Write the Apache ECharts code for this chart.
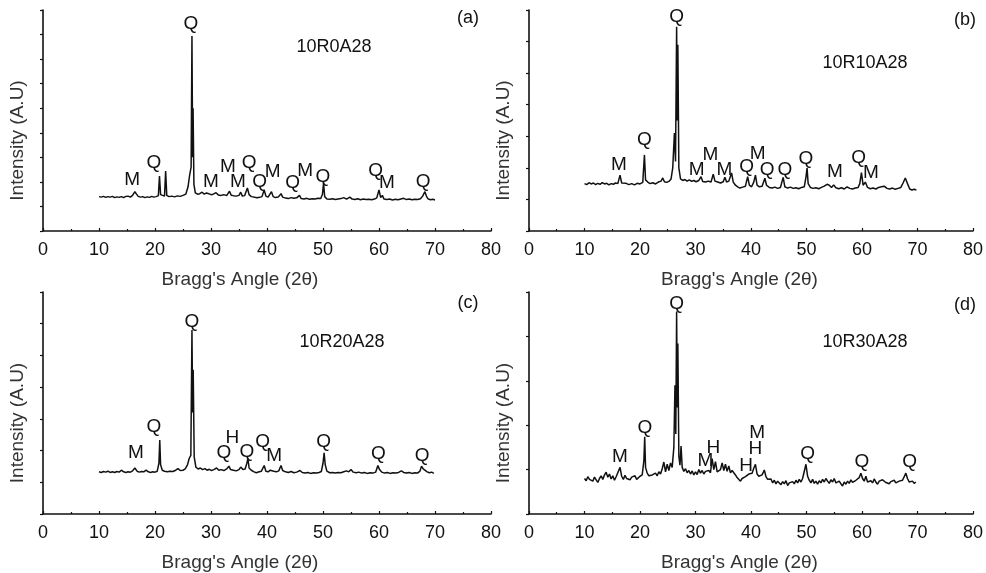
<!DOCTYPE html>
<html>
<head>
<meta charset="utf-8">
<script src="https://cdn.jsdelivr.net/npm/echarts@6/dist/echarts.min.js"></script>
<style>
  html, body { margin: 0; padding: 0; background: #fff; }
  #chart { width: 986px; height: 573px; }
</style>
</head>
<body>
<div id="chart"></div>
<script>
// XRD patterns, [2theta, intensity in tick units]
const xrdA = [[10.0,1.40],[10.4,1.38],[10.8,1.41],[11.2,1.37],[11.6,1.40],[12.0,1.38],[12.4,1.41],[12.8,1.36],[13.2,1.39],[13.6,1.37],[14.0,1.40],[14.4,1.36],[14.8,1.41],[15.2,1.42],[15.6,1.38],[16.0,1.45],[16.4,1.60],[16.7,1.50],[17.0,1.41],[17.4,1.38],[17.8,1.40],[18.2,1.36],[18.6,1.39],[19.0,1.37],[19.4,1.41],[19.8,1.38],[20.2,1.40],[20.6,1.44],[20.8,2.24],[21.0,1.48],[21.3,1.40],[21.7,1.42],[21.9,2.44],[22.1,1.45],[22.5,1.40],[23.0,1.42],[23.5,1.39],[24.0,1.43],[24.5,1.41],[25.0,1.45],[25.5,1.50],[25.9,1.80],[26.2,2.30],[26.45,2.6],[26.6,7.94],[26.72,3.0],[26.8,5.0],[26.95,1.9],[27.2,1.55],[27.6,1.50],[28.0,1.52],[28.4,1.58],[28.8,1.50],[29.2,1.55],[29.6,1.52],[30.0,1.48],[30.4,1.50],[30.9,1.56],[31.3,1.47],[31.8,1.45],[32.3,1.48],[32.8,1.44],[33.3,1.62],[33.6,1.46],[34.0,1.44],[34.5,1.42],[35.0,1.45],[35.3,1.58],[35.6,1.42],[36.0,1.44],[36.5,1.75],[36.8,1.48],[37.2,1.40],[37.7,1.38],[38.2,1.35],[38.7,1.37],[39.1,1.40],[39.5,1.67],[39.8,1.42],[40.2,1.38],[40.5,1.45],[40.8,1.60],[41.1,1.40],[41.5,1.36],[42.0,1.38],[42.5,1.52],[42.8,1.38],[43.3,1.34],[43.8,1.32],[44.3,1.36],[44.8,1.33],[45.3,1.35],[45.8,1.45],[46.1,1.32],[46.6,1.30],[47.1,1.33],[47.6,1.29],[48.1,1.31],[48.6,1.30],[49.1,1.33],[49.6,1.32],[49.9,1.50],[50.1,1.95],[50.3,1.40],[50.7,1.30],[51.2,1.29],[51.7,1.31],[52.2,1.28],[52.7,1.30],[53.2,1.32],[53.7,1.36],[54.2,1.30],[54.8,1.38],[55.2,1.30],[55.7,1.28],[56.2,1.31],[56.7,1.27],[57.2,1.30],[57.7,1.28],[58.2,1.29],[58.7,1.27],[59.2,1.30],[59.6,1.35],[60.0,1.67],[60.3,1.36],[60.6,1.45],[60.9,1.30],[61.4,1.28],[61.9,1.30],[62.4,1.26],[62.9,1.29],[63.4,1.27],[63.9,1.30],[64.4,1.33],[64.9,1.28],[65.4,1.30],[65.9,1.27],[66.4,1.29],[66.9,1.28],[67.4,1.31],[67.8,1.42],[68.2,1.60],[68.5,1.40],[68.8,1.30],[69.2,1.27],[69.6,1.29],[70.0,1.26]];

const xrdB = [[10.0,1.50],[10.4,1.47],[10.8,1.53],[11.2,1.49],[11.6,1.52],[12.0,1.47],[12.4,1.51],[12.8,1.48],[13.2,1.53],[13.6,1.49],[14.0,1.51],[14.4,1.46],[14.8,1.50],[15.2,1.48],[15.6,1.52],[16.0,1.50],[16.4,1.77],[16.7,1.52],[17.0,1.48],[17.5,1.51],[18.0,1.47],[18.5,1.50],[19.0,1.46],[19.5,1.51],[20.0,1.49],[20.5,1.54],[20.8,2.41],[21.0,1.62],[21.4,1.55],[21.8,1.50],[22.3,1.53],[22.8,1.49],[23.3,1.55],[23.8,1.58],[24.1,1.68],[24.4,1.56],[24.8,1.54],[25.2,1.57],[25.6,1.65],[25.9,2.0],[26.2,3.1],[26.4,2.2],[26.6,6.47],[26.72,3.5],[26.82,5.9],[27.0,2.0],[27.3,1.65],[27.7,1.60],[28.1,1.63],[28.5,1.58],[28.9,1.62],[29.3,1.57],[29.7,1.60],[30.1,1.56],[30.6,1.60],[31.0,1.72],[31.3,1.57],[31.8,1.55],[32.3,1.58],[32.8,1.55],[33.2,1.80],[33.5,1.58],[34.0,1.55],[34.5,1.52],[35.0,1.56],[35.3,1.70],[35.6,1.55],[36.0,1.58],[36.5,1.84],[36.8,1.55],[37.2,1.45],[37.6,1.40],[38.0,1.36],[38.5,1.39],[39.0,1.42],[39.4,1.72],[39.7,1.45],[40.1,1.40],[40.5,1.55],[40.8,1.77],[41.1,1.45],[41.5,1.40],[42.0,1.42],[42.5,1.67],[42.8,1.45],[43.3,1.38],[43.8,1.36],[44.3,1.39],[44.8,1.35],[45.3,1.38],[45.8,1.70],[46.1,1.40],[46.6,1.36],[47.1,1.39],[47.6,1.35],[48.1,1.37],[48.6,1.34],[49.1,1.38],[49.6,1.40],[49.9,1.70],[50.1,1.99],[50.3,1.50],[50.7,1.38],[51.2,1.35],[51.7,1.37],[52.2,1.34],[52.7,1.38],[53.2,1.42],[53.7,1.48],[54.1,1.45],[54.5,1.38],[54.9,1.46],[55.3,1.37],[55.8,1.34],[56.3,1.37],[56.8,1.33],[57.3,1.40],[57.8,1.35],[58.3,1.33],[58.8,1.36],[59.3,1.38],[59.6,1.50],[59.9,1.85],[60.2,1.45],[60.6,1.55],[61.0,1.38],[61.5,1.34],[62.0,1.36],[62.5,1.33],[63.0,1.38],[63.5,1.40],[64.0,1.42],[64.5,1.35],[65.0,1.33],[65.5,1.36],[66.0,1.32],[66.5,1.35],[67.0,1.38],[67.4,1.52],[67.8,1.68],[68.2,1.50],[68.6,1.33],[69.0,1.30],[69.4,1.32],[69.8,1.30]];

const xrdC = [[10.0,1.33],[10.4,1.31],[10.8,1.34],[11.2,1.32],[11.6,1.35],[12.0,1.31],[12.4,1.33],[12.8,1.31],[13.2,1.34],[13.6,1.32],[14.0,1.38],[14.4,1.33],[14.8,1.31],[15.2,1.33],[15.6,1.32],[16.0,1.36],[16.4,1.45],[16.8,1.35],[17.2,1.32],[17.6,1.34],[18.0,1.33],[18.4,1.38],[18.8,1.33],[19.2,1.31],[19.6,1.33],[20.0,1.32],[20.4,1.35],[20.7,1.60],[20.85,2.33],[21.0,1.55],[21.3,1.38],[21.7,1.35],[22.2,1.33],[22.7,1.35],[23.2,1.34],[23.7,1.38],[24.1,1.43],[24.5,1.37],[25.0,1.38],[25.4,1.42],[25.8,1.55],[26.1,1.75],[26.4,1.85],[26.6,5.80],[26.72,3.2],[26.82,4.55],[27.0,1.8],[27.3,1.48],[27.7,1.42],[28.1,1.45],[28.5,1.40],[28.9,1.43],[29.3,1.38],[29.7,1.41],[30.1,1.37],[30.5,1.40],[31.0,1.45],[31.4,1.38],[31.8,1.40],[32.3,1.37],[32.8,1.42],[33.2,1.51],[33.5,1.40],[34.0,1.38],[34.5,1.36],[35.0,1.40],[35.3,1.48],[35.7,1.40],[36.1,1.42],[36.4,1.60],[36.6,1.75],[36.8,1.45],[37.2,1.38],[37.7,1.33],[38.1,1.30],[38.6,1.33],[39.0,1.35],[39.5,1.53],[39.8,1.35],[40.2,1.33],[40.6,1.38],[40.9,1.42],[41.2,1.35],[41.7,1.33],[42.1,1.36],[42.5,1.53],[42.8,1.37],[43.3,1.33],[43.8,1.31],[44.3,1.34],[44.8,1.30],[45.3,1.32],[45.9,1.37],[46.3,1.31],[46.8,1.29],[47.3,1.31],[47.8,1.28],[48.3,1.30],[48.8,1.29],[49.3,1.31],[49.7,1.34],[50.0,1.60],[50.2,1.93],[50.4,1.55],[50.7,1.35],[51.2,1.30],[51.7,1.31],[52.2,1.29],[52.7,1.31],[53.2,1.30],[53.7,1.33],[54.2,1.36],[54.6,1.33],[55.0,1.40],[55.4,1.32],[55.9,1.30],[56.4,1.32],[56.9,1.29],[57.4,1.31],[57.9,1.28],[58.4,1.30],[58.9,1.29],[59.4,1.32],[59.8,1.53],[60.1,1.40],[60.5,1.32],[61.0,1.29],[61.5,1.31],[62.0,1.28],[62.5,1.30],[63.0,1.29],[63.5,1.31],[64.0,1.36],[64.4,1.31],[64.9,1.29],[65.4,1.31],[65.9,1.28],[66.4,1.30],[66.9,1.29],[67.3,1.35],[67.6,1.51],[67.9,1.42],[68.2,1.48],[68.6,1.33],[69.0,1.30],[69.4,1.32],[69.8,1.28]];

const xrdD = [[10.0,0.80],[10.3,0.75],[10.6,0.84],[10.9,0.78],[11.2,0.82],[11.5,0.74],[11.8,0.83],[12.1,0.77],[12.4,0.71],[12.7,0.80],[13.0,0.86],[13.3,0.78],[13.6,0.88],[13.9,0.94],[14.2,0.83],[14.5,0.90],[14.8,0.79],[15.1,0.86],[15.4,0.76],[15.7,0.84],[16.0,0.81],[16.4,1.05],[16.7,0.85],[17.0,0.78],[17.3,0.87],[17.6,0.80],[17.9,0.84],[18.2,0.77],[18.5,0.83],[18.8,0.79],[19.1,0.86],[19.4,0.78],[19.7,0.82],[20.0,0.85],[20.4,0.88],[20.7,1.20],[20.85,1.74],[21.0,1.05],[21.3,0.92],[21.6,0.86],[21.9,0.82],[22.2,0.88],[22.5,0.84],[22.8,0.92],[23.1,0.86],[23.4,0.95],[23.7,0.90],[24.0,1.02],[24.3,1.17],[24.6,0.95],[24.9,1.12],[25.2,0.98],[25.5,1.15],[25.8,1.05],[26.1,1.50],[26.3,2.90],[26.45,1.8],[26.6,4.56],[26.72,2.4],[26.82,3.84],[27.0,1.3],[27.2,1.1],[27.4,1.53],[27.6,1.05],[27.9,0.96],[28.2,1.02],[28.5,0.93],[28.8,0.98],[29.1,0.90],[29.4,0.97],[29.7,0.88],[30.0,0.95],[30.3,0.89],[30.6,1.00],[30.9,0.92],[31.2,0.98],[31.5,0.90],[31.8,0.96],[32.1,0.92],[32.4,0.98],[32.7,0.93],[33.0,1.25],[33.3,1.00],[33.6,1.18],[33.9,0.95],[34.2,0.92],[34.5,1.00],[34.8,1.15],[35.1,0.98],[35.4,1.12],[35.7,0.96],[36.0,1.08],[36.3,0.93],[36.6,0.98],[36.9,1.02],[37.2,0.88],[37.5,0.82],[37.8,0.78],[38.1,0.74],[38.4,0.80],[38.7,0.76],[39.0,0.84],[39.3,0.80],[39.6,0.90],[39.9,0.86],[40.2,0.92],[40.5,1.03],[40.8,1.12],[41.1,0.90],[41.4,0.85],[41.7,0.82],[42.0,0.88],[42.4,0.99],[42.7,0.84],[43.0,0.78],[43.3,0.74],[43.6,0.79],[43.9,0.70],[44.2,0.76],[44.5,0.68],[44.8,0.74],[45.1,0.70],[45.4,0.66],[45.7,0.73],[46.0,0.68],[46.3,0.75],[46.6,0.64],[46.9,0.70],[47.2,0.66],[47.5,0.73],[47.8,0.68],[48.1,0.76],[48.4,0.70],[48.7,0.78],[49.0,0.72],[49.3,0.80],[49.6,0.84],[49.9,1.12],[50.2,0.85],[50.5,0.76],[50.8,0.70],[51.1,0.78],[51.4,0.69],[51.7,0.74],[52.0,0.67],[52.3,0.75],[52.6,0.70],[52.9,0.78],[53.2,0.72],[53.5,0.80],[53.8,0.74],[54.1,0.69],[54.4,0.77],[54.7,0.72],[55.0,0.80],[55.3,0.70],[55.6,0.66],[55.9,0.74],[56.2,0.68],[56.5,0.63],[56.8,0.72],[57.1,0.67],[57.4,0.74],[57.7,0.69],[58.0,0.77],[58.3,0.71],[58.6,0.68],[58.9,0.76],[59.2,0.72],[59.5,0.82],[59.8,0.92],[60.1,0.80],[60.4,0.74],[60.7,0.85],[61.0,0.72],[61.3,0.68],[61.6,0.75],[61.9,0.70],[62.2,0.79],[62.5,0.72],[62.8,0.67],[63.1,0.74],[63.4,0.70],[63.7,0.77],[64.0,0.80],[64.3,0.71],[64.6,0.75],[64.9,0.68],[65.2,0.73],[65.5,0.69],[65.8,0.76],[66.1,0.70],[66.4,0.66],[66.7,0.74],[67.0,0.70],[67.3,0.76],[67.6,0.84],[67.9,0.92],[68.2,0.80],[68.5,0.72],[68.8,0.68],[69.1,0.74],[69.4,0.69],[69.7,0.72]];

// phase labels: [2theta, height, phase]
const peaksA = [[26.4,8.43,'Q'],[15.9,2.08,'M'],[19.8,2.77,'Q'],[30.0,2.0,'M'],[33.0,2.60,'M'],[34.8,2.0,'M'],[36.8,2.77,'Q'],[38.7,2.0,'Q'],[41.0,2.4,'M'],[44.6,1.95,'Q'],[46.8,2.44,'M'],[50.0,2.20,'Q'],[59.4,2.44,'Q'],[61.4,1.95,'M'],[67.9,2.0,'Q']];
const peaksB = [[26.6,6.79,'Q'],[20.8,2.90,'Q'],[16.2,2.09,'M'],[30.2,1.95,'M'],[32.7,2.41,'M'],[35.2,1.93,'M'],[39.2,2.04,'Q'],[41.2,2.46,'M'],[42.9,1.93,'Q'],[46.1,1.95,'Q'],[49.9,2.30,'Q'],[55.1,1.88,'M'],[59.4,2.33,'Q'],[61.6,1.83,'M']];
const peaksC = [[26.6,6.07,'Q'],[19.8,2.75,'Q'],[16.6,1.93,'M'],[33.8,2.41,'H'],[32.3,1.92,'Q'],[36.4,1.97,'Q'],[39.2,2.28,'Q'],[41.3,1.83,'M'],[50.1,2.28,'Q'],[59.9,1.90,'Q'],[67.7,1.85,'Q']];
const peaksD = [[26.6,4.74,'Q'],[20.9,1.95,'Q'],[16.4,1.29,'M'],[31.8,1.20,'M'],[33.2,1.50,'H'],[39.1,1.08,'H'],[40.8,1.46,'H'],[41.1,1.82,'M'],[50.2,1.35,'Q'],[60.0,1.18,'Q'],[68.6,1.18,'Q']];

const sampleNames = ['10R0A28', '10R10A28', '10R20A28', '10R30A28'];
const panelTags = ['(a)', '(b)', '(c)', '(d)'];
const yMax = [9, 7, 7, 5];
const xTicks = [0, 80, 10];

const patterns = [xrdA, xrdB, xrdC, xrdD];
const peakSets = [peaksA, peaksB, peaksC, peaksD];

const font = 'Liberation Sans, Arial, sans-serif';
const ink = '#111';

const grids = [
    {left: 43, top: 10, width: 448, height: 221},
    {left: 529, top: 10, width: 448, height: 221},
    {left: 43, top: 292, width: 448, height: 222},
    {left: 529, top: 292, width: 448, height: 222}
];
const nameShift = [54, 23, 54, 23];

let myChart = echarts.init(document.getElementById('chart'));

let xAxes = [], yAxes = [], series = [], graphics = [];
grids.forEach(function (g, i) {
    xAxes.push({
        type: 'value', gridIndex: i,
        min: xTicks[0], max: xTicks[1], interval: xTicks[2],
        axisLine: {lineStyle: {color: ink, width: 1.6}},
        axisTick: {inside: true, length: 3, lineStyle: {color: ink, width: 1.2}},
        minorTick: {show: true, splitNumber: 2, length: 2, lineStyle: {color: ink, width: 1.2}},
        splitLine: {show: false},
        axisLabel: {fontSize: 18, color: ink, margin: 10, fontFamily: font},
        name: "Bragg's Angle (2θ)",
        nameLocation: 'middle',
        nameGap: 39,
        nameTextStyle: {fontSize: 19, color: '#333', fontFamily: font, padding: [0, nameShift[i], 0, 0]}
    });
    yAxes.push({
        type: 'value', gridIndex: i,
        min: 0, max: yMax[i], interval: 1,
        axisLine: {show: true, lineStyle: {color: ink, width: 1.6}},
        axisTick: {show: true, inside: false, length: 3, lineStyle: {color: ink, width: 1.2}},
        axisLabel: {show: false},
        splitLine: {show: false},
        name: 'Intensity (A.U)',
        nameLocation: 'middle',
        nameGap: 16,
        nameTextStyle: {fontSize: 19, color: '#333', fontFamily: font, padding: [0, 40, 0, 0]}
    });
    series.push({
        type: 'line', xAxisIndex: i, yAxisIndex: i,
        data: patterns[i],
        symbol: 'none',
        lineStyle: {color: ink, width: 1.5},
        silent: true
    });
    series.push({
        type: 'scatter', xAxisIndex: i, yAxisIndex: i,
        data: peakSets[i],
        symbolSize: 0,
        itemStyle: {opacity: 1},
        silent: true,
        label: {
            show: true, position: 'inside', opacity: 1,
            formatter: function (p) { return p.data[2]; },
            fontSize: 19, color: ink, fontFamily: font,
            textBorderWidth: 0
        }
    });
});

const namePos = [[334, 47], [865, 63], [342, 342], [865, 342]];
const tagPos = [[468, 18], [965, 20], [468, 303], [965, 305]];
sampleNames.forEach(function (s, i) {
    graphics.push({
        type: 'text', x: namePos[i][0], y: namePos[i][1],
        style: {text: s, fill: ink, font: '18px ' + font, textAlign: 'center', textVerticalAlign: 'middle'}
    });
    graphics.push({
        type: 'text', x: tagPos[i][0], y: tagPos[i][1],
        style: {text: panelTags[i], fill: ink, font: '18px ' + font, textAlign: 'center', textVerticalAlign: 'middle'}
    });
});

option = {
    animation: false,
    backgroundColor: '#fff',
    textStyle: {fontFamily: font},
    grid: grids,
    xAxis: xAxes,
    yAxis: yAxes,
    series: series,
    graphic: graphics
};
myChart.setOption(option);
</script>
</body>
</html>
